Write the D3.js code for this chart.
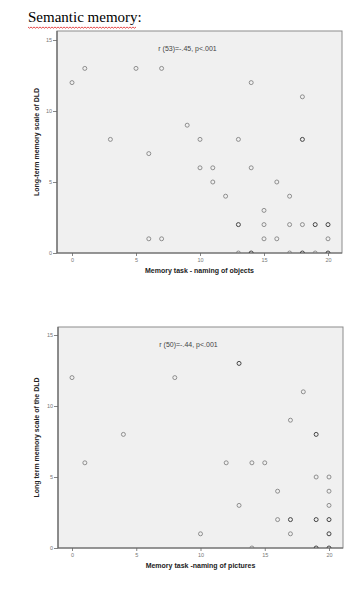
<!DOCTYPE html>
<html>
<head>
<meta charset="utf-8">
<style>
  body { margin: 0; background: #fff; }
  svg { display: block; }
</style>
</head>
<body>
<svg id="chart"></svg>
<script src="https://cdn.jsdelivr.net/npm/d3@7"></script>
<script>
// chart 1: naming of objects  [x, y, count]
var objectsX = [0, 1, 5, 7, 3, 9, 6, 10, 13, 18, 14, 18, 10, 11, 14, 11, 16, 12, 17, 15, 13, 15, 17, 18, 19, 20, 6, 7, 15, 16, 20, 13, 14, 17, 18, 19, 20];
var objectsY = [12, 13, 13, 13, 8, 9, 7, 8, 8, 8, 12, 11, 6, 6, 6, 5, 5, 4, 4, 3, 2, 2, 2, 2, 2, 2, 1, 1, 1, 1, 1, 0, 0, 0, 0, 0, 0];
var objectsN = [1, 1, 1, 1, 1, 1, 1, 1, 1, 2, 1, 1, 1, 1, 1, 1, 1, 1, 1, 1, 2, 1, 1, 1, 2, 2, 1, 1, 1, 1, 1, 1, 2, 1, 2, 1, 2];

// chart 2: naming of pictures
var picturesX = [0, 8, 13, 18, 17, 4, 19, 1, 12, 14, 15, 19, 20, 16, 20, 13, 20, 16, 17, 19, 20, 10, 17, 20, 14, 19, 20];
var picturesY = [12, 12, 13, 11, 9, 8, 8, 6, 6, 6, 6, 5, 5, 4, 4, 3, 3, 2, 2, 2, 2, 1, 1, 1, 0, 0, 0];
var picturesN = [1, 1, 2, 1, 1, 1, 2, 1, 1, 1, 1, 1, 1, 1, 1, 1, 1, 1, 2, 2, 2, 1, 1, 2, 1, 2, 2];

var xTicks = [0, 5, 10, 15, 20];
var yTicks = [0, 5, 10, 15];

var charts = [
  { xs: objectsX, ys: objectsY, ns: objectsN,
    note: "r (53)=-.45, p<.001",
    xTitle: "Memory task - naming of objects",
    yTitle: "Long-term memory scale of DLD",
    box: {left: 57, right: 342, top: 31, bottom: 253},
    xr: [72, 328], yr: [253, 40] },
  { xs: picturesX, ys: picturesY, ns: picturesN,
    note: "r (50)=-.44, p<.001",
    xTitle: "Memory task -naming of pictures",
    yTitle: "Long term memory scale of the DLD",
    box: {left: 58, right: 343, top: 327, bottom: 548},
    xr: [72, 329], yr: [548, 335] }
];

var svg = d3.select("svg#chart")
    .attr("width", 362)
    .attr("height", 592);

// heading with spell-check squiggle
svg.append("text")
    .attr("x", 28)
    .attr("y", 22)
    .attr("font-family", "Liberation Serif, serif")
    .attr("font-size", 15)
    .attr("fill", "#000")
    .text("Semantic memory:");

var sq = "M28,27";
for (var s = 0; s < 72; s++) {
    sq += " l1.5," + (s % 2 == 0 ? 1.2 : -1.2);
}
svg.append("path")
    .attr("d", sq)
    .attr("fill", "none")
    .attr("stroke", "#e02020")
    .attr("stroke-width", 0.8);

charts.forEach(function(c, ci) {

var x = d3.scaleLinear().domain([0, 20]).range(c.xr);
var y = d3.scaleLinear().domain([0, 15]).range(c.yr);
var b = c.box;

var g = svg.append("g");

g.append("clipPath")
    .attr("id", "clip" + ci)
  .append("rect")
    .attr("x", b.left)
    .attr("y", b.top)
    .attr("width", b.right - b.left)
    .attr("height", b.bottom - b.top);

g.append("rect")
    .attr("x", b.left)
    .attr("y", b.top)
    .attr("width", b.right - b.left)
    .attr("height", b.bottom - b.top)
    .attr("fill", "#f0f0f0")
    .attr("stroke", "#8c8c8c")
    .attr("stroke-width", 1);

// axes
var xAxis = g.append("g")
    .attr("transform", "translate(0," + b.bottom + ")")
    .call(d3.axisBottom(x).tickValues(xTicks).tickSize(3).tickPadding(2));
var yAxis = g.append("g")
    .attr("transform", "translate(" + b.left + ",0)")
    .call(d3.axisLeft(y).tickValues(yTicks).tickSize(4).tickPadding(1));

[xAxis, yAxis].forEach(function(ax) {
    ax.select(".domain").remove();
    ax.selectAll("line").attr("stroke", "#666").attr("stroke-width", 0.8);
    ax.selectAll("text")
        .attr("fill", "#777")
        .attr("font-family", "Liberation Sans, Arial, sans-serif")
        .attr("font-size", 5.5);
});

g.append("line")
    .attr("x1", b.left).attr("x2", b.right)
    .attr("y1", b.bottom).attr("y2", b.bottom)
    .attr("stroke", "#666").attr("stroke-width", 1.2);
g.append("line")
    .attr("x1", b.left).attr("x2", b.left)
    .attr("y1", b.top).attr("y2", b.bottom)
    .attr("stroke", "#666").attr("stroke-width", 1.2);

// points
var pts = c.xs.map(function(v, i) { return {x: v, y: c.ys[i], n: c.ns[i]}; });
g.append("g")
    .attr("clip-path", "url(#clip" + ci + ")")
  .selectAll("circle")
    .data(pts)
    .enter()
  .append("circle")
    .attr("cx", function(d) { return x(d.x); })
    .attr("cy", function(d) { return y(d.y); })
    .attr("r", 2)
    .attr("fill", "none")
    .attr("stroke", function(d) { return d.n > 1 ? "#444" : "#777"; })
    .attr("stroke-width", function(d) { return d.n > 1 ? 1 : 0.8; });

// correlation note
g.append("text")
    .attr("x", (b.left + b.right) / 2 - 12)
    .attr("y", b.top + 20)
    .attr("text-anchor", "middle")
    .attr("font-family", "Liberation Sans, Arial, sans-serif")
    .attr("font-size", 7)
    .attr("fill", "#444")
    .text(c.note);

// axis titles
g.append("text")
    .attr("x", (b.left + b.right) / 2)
    .attr("y", b.bottom + 20)
    .attr("text-anchor", "middle")
    .attr("font-family", "Liberation Sans, Arial, sans-serif")
    .attr("font-weight", "bold")
    .attr("font-size", 7)
    .attr("fill", "#222")
    .text(c.xTitle);

g.append("text")
    .attr("transform", "translate(39," + ((b.top + b.bottom) / 2) + ") rotate(-90)")
    .attr("text-anchor", "middle")
    .attr("font-family", "Liberation Sans, Arial, sans-serif")
    .attr("font-weight", "bold")
    .attr("font-size", 7)
    .attr("fill", "#222")
    .text(c.yTitle);

});
</script>
</body>
</html>
